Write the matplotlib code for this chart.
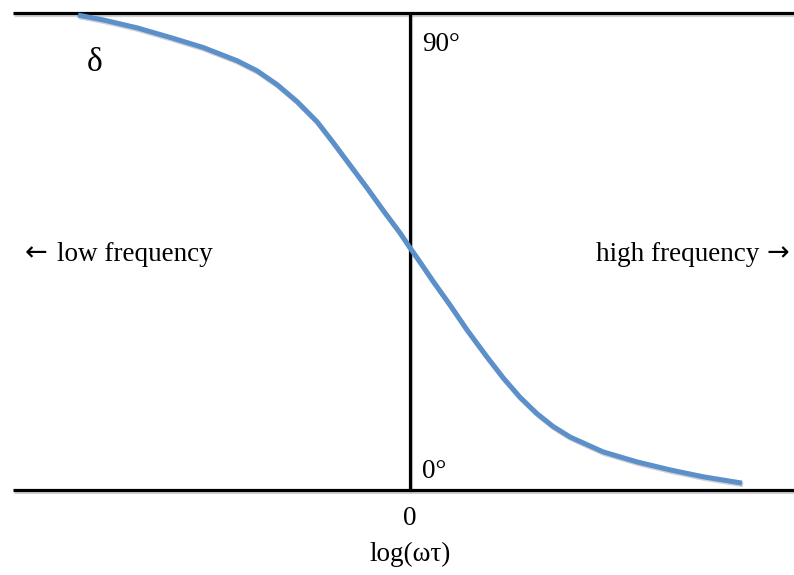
import matplotlib.pyplot as plt
import matplotlib.patheffects as pe

# phase angle delta (degrees) against log(omega*tau)
log_wt = [-3.32, -3.07, -2.73, -2.40, -2.07, -1.73, -1.53, -1.33, -1.13, -0.93,
          -0.77, -0.60, -0.43, -0.27, -0.10, 0.0, 0.10, 0.23, 0.40, 0.57,
          0.77, 0.93, 1.10, 1.27, 1.43, 1.60, 1.93, 2.27, 2.60, 2.93, 3.32]
delta = [89.6, 88.7, 87.2, 85.4, 83.5, 81.0, 79.1, 76.5, 73.3, 69.5,
         65.6, 61.3, 57.0, 52.8, 48.5, 45.7, 43.0, 39.4, 34.9, 30.2,
         25.1, 21.2, 17.5, 14.4, 12.0, 10.0, 7.2, 5.3, 3.8, 2.5, 1.3]

y_top, y_bottom = 90, 0

plt.rcParams['font.family'] = ['Liberation Serif', 'DejaVu Serif']

fig = plt.figure(figsize=(7.94, 5.75), dpi=100)
ax = fig.add_axes([0, 0, 1, 1])
ax.set_xlim(-4.10, 3.84)
ax.set_ylim(-16.04, 92.45)
ax.axis('off')

shadow = [pe.SimpleLineShadow(offset=(0.8, -1.2), alpha=0.18), pe.Normal()]

# frame lines: 90 deg, 0 deg and the log axis at zero
for xs, ys in [([-3.97, 3.84], [y_top, y_top]),
               ([-3.97, 3.84], [y_bottom, y_bottom]),
               ([0, 0], [y_bottom, y_top])]:
    ax.plot(xs, ys, color='black', lw=2.3, solid_capstyle='butt',
            path_effects=shadow)

ax.plot(log_wt, delta, color='#5b90cb', lw=3.6, solid_joinstyle='round',
        solid_capstyle='butt', path_effects=shadow)

fs = 19.5
ax.text(-3.15, 80.6, 'δ', fontsize=24, ha='center', va='center')
ax.text(0.12, 84.1, '90°', fontsize=fs, ha='left', va='center')
ax.text(0.12, 3.4, '0°', fontsize=fs, ha='left', va='center')
ax.text(0, -5.4, '0', fontsize=fs, ha='center', va='center')
ax.text(0, -12.1, 'log(ωτ)', fontsize=fs, ha='center', va='center')

# frequency direction labels, arrows from a sans font
ax.text(-3.85, 44.7, '←', fontsize=fs, family='DejaVu Sans',
        ha='left', va='center')
ax.text(-3.53, 44.5, 'low frequency', fontsize=fs, ha='left', va='center')
ax.text(3.79, 44.7, '→', fontsize=fs, family='DejaVu Sans',
        ha='right', va='center')
ax.text(3.49, 44.5, 'high frequency', fontsize=fs, ha='right', va='center')

fig.savefig('out.png', dpi=100)
